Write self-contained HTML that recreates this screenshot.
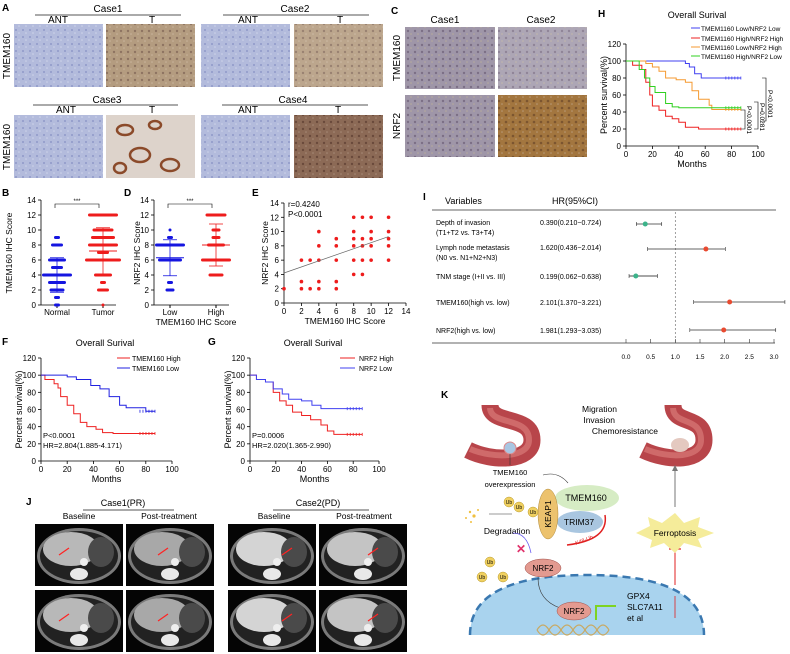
<!DOCTYPE html>
<html><head><meta charset="utf-8"><style>
body{margin:0;background:#fff}
svg{display:block;font-family:"Liberation Sans",Arial,sans-serif}
</style></head><body>
<svg id="fig" width="790" height="654" viewBox="0 0 790 654" xmlns="http://www.w3.org/2000/svg">
<defs>
<pattern id="pANT" width="7" height="7" patternUnits="userSpaceOnUse"><rect width="7" height="7" fill="#b3bbdc"/><circle cx="2" cy="2" r="1" fill="#8f99c8"/><circle cx="5" cy="5" r="0.8" fill="#cfd4ea"/></pattern>
<pattern id="pT" width="7" height="7" patternUnits="userSpaceOnUse"><rect width="7" height="7" fill="#b49c80"/><circle cx="2" cy="3" r="1.2" fill="#8e7462"/><circle cx="5" cy="6" r="0.8" fill="#c9b59c"/></pattern>
<pattern id="pT4" width="7" height="7" patternUnits="userSpaceOnUse"><rect width="7" height="7" fill="#8c6a56"/><circle cx="2" cy="3" r="1.2" fill="#6a4a3c"/><circle cx="5" cy="6" r="0.8" fill="#a78a78"/></pattern>
<pattern id="pC" width="7" height="7" patternUnits="userSpaceOnUse"><rect width="7" height="7" fill="#9f96a8"/><circle cx="2" cy="3" r="1.2" fill="#7c6f86"/><circle cx="5" cy="6" r="0.8" fill="#b7ab9c"/></pattern>
<pattern id="pN" width="7" height="7" patternUnits="userSpaceOnUse"><rect width="7" height="7" fill="#a3763f"/><circle cx="2" cy="3" r="1.3" fill="#7c5530"/><circle cx="5" cy="6" r="0.8" fill="#b99a78"/></pattern>
</defs>
<g id="static" font-size="10" fill="#000">
<text x="2" y="11" font-weight="bold" font-size="10">A</text>
<text x="108" y="12" text-anchor="middle">Case1</text>
<line x1="35" y1="15" x2="181" y2="15" stroke="#555"/>
<text x="58" y="23" text-anchor="middle">ANT</text><text x="152" y="23" text-anchor="middle">T</text>
<text x="295" y="12" text-anchor="middle">Case2</text>
<line x1="223" y1="15" x2="369" y2="15" stroke="#555"/>
<text x="248" y="23" text-anchor="middle">ANT</text><text x="340" y="23" text-anchor="middle">T</text>
<rect x="14" y="24" width="89" height="63" fill="url(#pANT)"/>
<rect x="106" y="24" width="89" height="63" fill="url(#pT)"/>
<rect x="201" y="24" width="89" height="63" fill="url(#pANT)"/>
<rect x="294" y="24" width="89" height="63" fill="url(#pT)" opacity="0.9"/>
<text x="10" y="56" transform="rotate(-90 10 56)" text-anchor="middle">TMEM160</text>
<text x="107" y="103" text-anchor="middle">Case3</text>
<line x1="33" y1="105" x2="178" y2="105" stroke="#555"/>
<text x="66" y="113" text-anchor="middle">ANT</text><text x="152" y="113" text-anchor="middle">T</text>
<text x="293" y="103" text-anchor="middle">Case4</text>
<line x1="222" y1="105" x2="368" y2="105" stroke="#555"/>
<text x="248" y="113" text-anchor="middle">ANT</text><text x="338" y="113" text-anchor="middle">T</text>
<rect x="14" y="115" width="89" height="63" fill="url(#pANT)"/>
<rect x="106" y="115" width="89" height="63" fill="#ddd3cb"/>
<g fill="none" stroke="#8b4a2a" stroke-width="2.5"><ellipse cx="140" cy="155" rx="10" ry="7"/><ellipse cx="125" cy="130" rx="8" ry="5"/><ellipse cx="170" cy="165" rx="9" ry="6"/><ellipse cx="155" cy="125" rx="6" ry="4"/><ellipse cx="120" cy="168" rx="6" ry="5"/></g>
<rect x="201" y="115" width="89" height="63" fill="url(#pANT)"/>
<rect x="294" y="115" width="89" height="63" fill="url(#pT4)"/>
<text x="10" y="147" transform="rotate(-90 10 147)" text-anchor="middle">TMEM160</text>
<text x="391" y="14" font-weight="bold">C</text>
<text x="445" y="23" text-anchor="middle">Case1</text><text x="541" y="23" text-anchor="middle">Case2</text>
<rect x="405" y="27" width="90" height="62" fill="url(#pC)"/>
<rect x="498" y="27" width="89" height="62" fill="url(#pC)" opacity="0.85"/>
<rect x="405" y="95" width="90" height="62" fill="url(#pC)"/>
<rect x="498" y="95" width="89" height="62" fill="url(#pN)"/>
<text x="400" y="58" transform="rotate(-90 400 58)" text-anchor="middle">TMEM160</text>
<text x="400" y="126" transform="rotate(-90 400 126)" text-anchor="middle">NRF2</text>
<text x="2" y="196" font-weight="bold">B</text>
<text x="124" y="196" font-weight="bold">D</text>
<text x="252" y="196" font-weight="bold">E</text>
<text x="2" y="345" font-weight="bold">F</text>
<text x="208" y="345" font-weight="bold">G</text>
<text x="598" y="17" font-weight="bold">H</text>
<text x="423" y="200" font-weight="bold">I</text>
<text x="26" y="505" font-weight="bold">J</text>
<text x="441" y="398" font-weight="bold">K</text>
<text x="123" y="506" text-anchor="middle" font-size="9">Case1(PR)</text>
<line x1="83" y1="510" x2="174" y2="510" stroke="#555"/>
<text x="79" y="519" text-anchor="middle" font-size="8.5">Baseline</text>
<text x="169" y="519" text-anchor="middle" font-size="8.5">Post-treatment</text>
<text x="318" y="506" text-anchor="middle" font-size="9">Case2(PD)</text>
<line x1="273" y1="510" x2="369" y2="510" stroke="#555"/>
<text x="274" y="519" text-anchor="middle" font-size="8.5">Baseline</text>
<text x="364" y="519" text-anchor="middle" font-size="8.5">Post-treatment</text>
</g>
<g id="ct"></g>
<g id="charts"></g>
<g id="k" font-size="7.5">
<path d="M490 405 C490 426 532 414 532 440 C532 462 492 462 468 450" fill="none" stroke="#b8454a" stroke-width="17"/>
<path d="M490 408 C491 426 529 416 529 440 C529 458 494 459 470 449" fill="none" stroke="#cf6a6a" stroke-width="6"/>
<circle cx="510" cy="448" r="6" fill="#a9c6e2" stroke="#dd8a8a"/>
<line x1="510" y1="454" x2="510" y2="465" stroke="#333" stroke-width="0.6"/>
<path d="M673 405 C673 426 704 414 704 440 C704 462 668 462 643 450" fill="none" stroke="#b8454a" stroke-width="17"/>
<path d="M673 408 C674 426 701 416 701 440 C701 458 670 459 645 449" fill="none" stroke="#cf6a6a" stroke-width="6"/>
<ellipse cx="680" cy="445" rx="9" ry="7" fill="#e4c9c0"/>
<text x="617" y="412" text-anchor="end" font-size="8.5">Migration</text>
<text x="615" y="423" text-anchor="end" font-size="8.5">Invasion</text>
<text x="658" y="434" text-anchor="end" font-size="8.5">Chemoresistance</text>
<text x="510" y="475" text-anchor="middle">TMEM160</text>
<text x="510" y="487" text-anchor="middle">overexpression</text>
<path d="M543 475 q15 -4 25 8" fill="none" stroke="#333" stroke-width="0.6"/>
<ellipse cx="587" cy="498" rx="32" ry="13" fill="#d6ecc4"/>
<ellipse cx="580" cy="522" rx="23" ry="11" fill="#a9c6e0"/>
<text x="586" y="501" text-anchor="middle" font-size="9">TMEM160</text>
<text x="579" y="525" text-anchor="middle" font-size="8.5">TRIM37</text>
<ellipse cx="548" cy="514" rx="10" ry="25" fill="#ecc26e" stroke="#b08a3a" stroke-width="0.5"/>
<text x="551" y="514" transform="rotate(-90 551 514)" text-anchor="middle" font-size="8.5">KEAP1</text>
<g fill="#f0d060" stroke="#b89a30" stroke-width="0.5"><circle cx="509" cy="502" r="5"/><circle cx="519" cy="507" r="5"/><circle cx="533" cy="512" r="5"/><circle cx="490" cy="562" r="5"/><circle cx="482" cy="577" r="5"/><circle cx="503" cy="577" r="5"/></g>
<g font-size="5" text-anchor="middle"><text x="509" y="504">Ub</text><text x="519" y="509">Ub</text><text x="533" y="514">Ub</text><text x="490" y="564">Ub</text><text x="482" y="579">Ub</text><text x="503" y="579">Ub</text></g>
<g fill="#f0c040"><circle cx="470" cy="512" r="1.2"/><circle cx="474" cy="516" r="1.6"/><circle cx="466" cy="518" r="1"/><circle cx="478" cy="510" r="1"/><circle cx="471" cy="522" r="1"/></g>
<line x1="512" y1="514" x2="489" y2="514" stroke="#333" stroke-width="0.6"/>
<text x="507" y="534" text-anchor="middle" font-size="8.5">Degradation</text>
<path d="M513 533 q14 0 18 20" fill="none" stroke="#6a5cf0" stroke-width="0.8"/>
<text x="516" y="553" fill="#e0306a" font-size="12" font-weight="bold">✕</text>
<path d="M605 515 q4 25 -38 30" fill="none" stroke="#e02020" stroke-width="1.5"/>
<text x="576" y="545" fill="#e02020" font-size="5.5" transform="rotate(-20 576 545)">K48-Ub</text>
<path d="M470 635 q0 -60 117 -60 q117 0 117 60 z" fill="#a9d3ee"/>
<path d="M470 635 q0 -60 117 -60 q117 0 117 60" fill="none" stroke="#3a78b0" stroke-width="2.5" stroke-dasharray="8 5"/>
<ellipse cx="543" cy="568" rx="18" ry="9" fill="#e39a90" stroke="#a0504a" stroke-width="0.5"/>
<text x="543" y="571" text-anchor="middle" font-size="8">NRF2</text>
<path d="M538 578 q0 22 22 30" fill="none" stroke="#333" stroke-width="0.6"/>
<ellipse cx="574" cy="611" rx="17" ry="9" fill="#e39a90" stroke="#a0504a" stroke-width="0.5"/>
<text x="574" y="614" text-anchor="middle" font-size="8">NRF2</text>
<path d="M537 630 q6 -10 12 0 q6 10 12 0 q6 -10 12 0 q6 10 12 0 q6 -10 12 0 q6 10 12 0" fill="none" stroke="#c9a860" stroke-width="1.2"/>
<path d="M537 630 q6 10 12 0 q6 -10 12 0 q6 10 12 0 q6 -10 12 0 q6 10 12 0 q6 -10 12 0" fill="none" stroke="#c9a860" stroke-width="1.2"/>
<path d="M596 620 v-14 h20" fill="none" stroke="#7ed321" stroke-width="2"/>
<text x="627" y="599" font-size="8.5">GPX4</text><text x="627" y="610" font-size="8.5">SLC7A11</text><text x="627" y="621" font-size="8.5">et al</text>
<line x1="675" y1="618" x2="675" y2="596" stroke="#e02020" stroke-width="0.8"/>
<line x1="675" y1="585" x2="675" y2="549" stroke="#e02020" stroke-width="1"/>
<line x1="669" y1="549" x2="681" y2="549" stroke="#e02020" stroke-width="1.2"/>
<polygon points="636,533 650,526 648,517 662,523 675,513 684,523 700,517 698,527 714,533 698,539 702,548 684,543 675,553 664,543 650,548 652,540" fill="#f5ec9a"/>
<text x="675" y="536" text-anchor="middle" font-size="8.5">Ferroptosis</text>
<line x1="675" y1="507" x2="675" y2="470" stroke="#777" stroke-width="1"/>
<polygon points="672,471 675,465 678,471" fill="#777"/>
</g>
</svg>
<script>
const NS='http://www.w3.org/2000/svg';
const root=document.getElementById('charts');
function mk(tag,attrs,parent,txt){const e=document.createElementNS(NS,tag);for(const k in attrs)e.setAttribute(k,attrs[k]);if(txt!==undefined)e.textContent=txt;(parent||root).appendChild(e);return e;}

const bCategories=['Normal','Tumor'];
const bNormalScores=[0,1,2,3,4,5,6,8,9];
const bNormalCounts=[2,2,5,6,10,4,6,4,2];
const bTumorScores=[0,2,3,4,6,7,8,9,10,12];
const bTumorCounts=[1,4,2,6,12,4,10,8,7,10];
const bMeans=[4.0,7.2];
const bSD=[2.3,3.1];
const bYTicks=[0,2,4,6,8,10,12,14];
const dCategories=['Low','High'];
const dLowScores=[2,3,6,8,9,10];
const dLowCounts=[3,2,8,10,2,1];
const dHighScores=[4,6,8,9,10,12];
const dHighCounts=[5,10,6,3,3,7];
const dMeans=[6.3,8.0];
const dSD=[2.4,2.8];
const eX=[0,2,2,2,3,3,4,4,4,4,4,6,6,6,6,6,8,8,8,8,8,8,9,9,9,9,9,10,10,10,10,10,12,12,12,12,12];
const eY=[2,2,3,6,2,6,2,3,6,8,10,2,3,6,8,9,4,6,8,9,10,12,4,6,8,9,12,6,8,9,10,12,6,8,9,10,12];
const eFit=[4.2,9.3];
const eTicks=[0,2,4,6,8,10,12,14];
const fHighT=[0,3,10,13,15,20,25,30,35,42,47,55,87];
const fHighS=[100,95,90,85,75,65,55,45,40,37,33,32,32];
const fLowT=[0,12,20,27,38,45,52,60,65,78,80,87];
const fLowS=[100,100,98,95,88,84,75,65,62,62,58,58];
const gHighT=[0,5,12,18,23,28,33,40,47,55,60,65,87];
const gHighS=[100,95,92,80,70,65,57,53,48,42,35,31,31];
const gLowT=[0,5,12,18,25,30,40,48,55,87];
const gLowS=[100,95,92,84,78,72,70,65,61,61];
const hLLt=[0,20,45,48,52,57,87];
const hLLs=[100,100,97,93,85,80,80];
const hHHt=[0,5,12,15,18,20,25,30,35,40,45,55,87];
const hHHs=[100,95,90,75,60,47,42,35,32,28,22,20,20];
const hLHt=[0,15,20,25,30,38,45,50,55,63,65,87];
const hLHs=[100,97,93,88,80,78,75,65,55,48,43,43];
const hHLt=[0,10,14,18,22,30,35,40,87];
const hHLs=[100,90,80,70,63,50,46,45,45];
const survXTicks=[0,20,40,60,80,100];
const survYTicks=[0,20,40,60,80,100,120];
const iVars=[['Depth of invasion','(T1+T2 vs. T3+T4)'],['Lymph node metastasis','(N0 vs. N1+N2+N3)'],['TNM stage (I+II vs. III)'],['TMEM160(high vs. low)'],['NRF2(high vs. low)']];
const iHR=[0.390,1.620,0.199,2.101,1.981];
const iLo=[0.210,0.436,0.062,1.370,1.293];
const iHi=[0.724,2.014,0.638,3.221,3.035];
const iLabels=['0.390(0.210−0.724)','1.620(0.436−2.014)','0.199(0.062−0.638)','2.101(1.370−3.221)','1.981(1.293−3.035)'];
const iTicks=[0,0.5,1,1.5,2,2.5,3];

function lin(d0,d1,r0,r1){return v=>r0+(v-d0)*(r1-r0)/(d1-d0);}
function yAxis(g,x,y,ticks){for(const t of ticks){const yy=y(t);mk('line',{x1:x-3,y1:yy,x2:x,y2:yy,stroke:'#000','stroke-width':0.8},g);mk('text',{x:x-5,y:yy+3,'text-anchor':'end','font-size':8},g,String(t));}
 mk('line',{x1:x,y1:y(ticks[0]),x2:x,y2:y(ticks[ticks.length-1]),stroke:'#000','stroke-width':0.8},g);}

function dotPlot(name,x0,cats,sets,means,sds,colors,xlab){
 const g=mk('g',{});
 
 
 const y=lin(0,14,305,200);
 yAxis(g,x0,y,bYTicks);
 mk('line',{x1:x0,y1:305,x2:x0+75,y2:305,stroke:'#000','stroke-width':0.8},g);
 const cx=[x0+16,x0+62];
 cats.forEach((c,i)=>{mk('line',{x1:cx[i],y1:305,x2:cx[i],y2:308,stroke:'#000'},g);mk('text',{x:cx[i],y:315,'text-anchor':'middle','font-size':8},g,c);});
 sets.forEach((s,i)=>{const [sc,cn]=s;sc.forEach((v,j)=>{const w=cn[j]*1.5;
   const r=mk('rect',{x:cx[i]-w,y:y(v)-1.5,width:2*w,height:3,fill:colors[i],rx:1.5},g);
   
   });
   const m=means[i],sd=sds[i];
   mk('line',{x1:cx[i]-14,x2:cx[i]+14,y1:y(m),y2:y(m),stroke:colors[i],'stroke-width':1},g);
   mk('line',{x1:cx[i],x2:cx[i],y1:y(m-sd),y2:y(m+sd),stroke:colors[i],'stroke-width':0.8},g);
   for(const e of [m-sd,m+sd])mk('line',{x1:cx[i]-7,x2:cx[i]+7,y1:y(e),y2:y(e),stroke:colors[i],'stroke-width':0.8},g);});
 mk('path',{d:`M${cx[0]-2} 208 V204 H${cx[1]-4} V208`,fill:'none',stroke:'#000','stroke-width':0.6},g);
 mk('text',{x:(cx[0]+cx[1])/2-3,y:203,'text-anchor':'middle','font-size':6},g,'***');
 if(xlab)mk('text',{x:x0+42,y:325,'text-anchor':'middle','font-size':8.5},g,xlab);
 return g;}
const gb=dotPlot('panel-b-dotplot',41,bCategories,[[bNormalScores,bNormalCounts],[bTumorScores,bTumorCounts]],bMeans,bSD,['#1515e0','#ee1c1c']);
mk('text',{x:12,y:253,transform:'rotate(-90 12 253)','text-anchor':'middle','font-size':8.5},gb,'TMEM160 IHC Score');
const gd=dotPlot('panel-d-dotplot',154,dCategories,[[dLowScores,dLowCounts],[dHighScores,dHighCounts]],dMeans,dSD,['#1515e0','#ee1c1c'],'TMEM160 IHC Score');
mk('text',{x:140,y:253,transform:'rotate(-90 140 253)','text-anchor':'middle','font-size':8.5},gd,'NRF2 IHC Score');

(function(){const g=mk('g',{});
 
 
 const x=lin(0,14,284,406),y=lin(0,14,303,203);
 yAxis(g,284,y,eTicks);
 mk('line',{x1:284,y1:303,x2:406,y2:303,stroke:'#000','stroke-width':0.8},g);
 for(const t of eTicks){mk('line',{x1:x(t),y1:303,x2:x(t),y2:306,stroke:'#000','stroke-width':0.8},g);mk('text',{x:x(t),y:314,'text-anchor':'middle','font-size':8},g,String(t));}
 eX.forEach((v,i)=>{const c=mk('circle',{cx:x(v),cy:y(eY[i]),r:1.8,fill:'#ee1c1c'},g);
  
  });
 mk('line',{x1:x(0),y1:y(eFit[0]),x2:x(12),y2:y(eFit[1]),stroke:'#666','stroke-width':0.7},g);
 mk('text',{x:288,y:207,'font-size':8},g,'r=0.4240');
 mk('text',{x:288,y:217,'font-size':8},g,'P<0.0001');
 mk('text',{x:345,y:324,'text-anchor':'middle','font-size':8.5},g,'TMEM160 IHC Score');
 mk('text',{x:268,y:253,transform:'rotate(-90 268 253)','text-anchor':'middle','font-size':8.5},g,'NRF2 IHC Score');})();

function survival(name,x0,x1,y0,y1,series,title,titleX,titleY){
 const g=mk('g',{});
 
 
 const x=lin(0,100,x0,x1),y=lin(0,120,y0,y1);
 yAxis(g,x0,y,survYTicks);
 mk('line',{x1:x0,y1:y0,x2:x1,y2:y0,stroke:'#000','stroke-width':0.8},g);
 for(const t of survXTicks){mk('line',{x1:x(t),y1:y0,x2:x(t),y2:y0+3,stroke:'#000','stroke-width':0.8},g);mk('text',{x:x(t),y:y0+11,'text-anchor':'middle','font-size':8},g,String(t));}
 for(const s of series){let d=`M${x(s.t[0])} ${y(s.s[0])}`;for(let i=1;i<s.t.length;i++)d+=` H${x(s.t[i])} V${y(s.s[i])}`;
  const p=mk('path',{d,fill:'none',stroke:s.c,'stroke-width':1},g);
  
  
  const last=s.t.length-1;for(let k=0;k<6;k++)mk('line',{x1:x(s.t[last])-k*3,x2:x(s.t[last])-k*3,y1:y(s.s[last])-1.5,y2:y(s.s[last])+1.5,stroke:s.c,'stroke-width':0.8},g);}
 mk('text',{x:titleX,y:titleY,'text-anchor':'middle','font-size':9},g,title);
 mk('text',{x:(x0+x1)/2,y:y0+21,'text-anchor':'middle','font-size':9},g,'Months');
 mk('text',{x:x0-19,y:(y0+y1)/2,transform:`rotate(-90 ${x0-19} ${(y0+y1)/2})`,'text-anchor':'middle','font-size':9},g,'Percent survival(%)');
 return g;}
const gf=survival('panel-f-survival',41,172,461,358,[{t:fHighT,s:fHighS,c:'#ee2020'},{t:fLowT,s:fLowS,c:'#2020e0'}],'Overall Surival',105,346);
mk('text',{x:43,y:438,'font-size':7.5},gf,'P<0.0001');
mk('text',{x:43,y:448,'font-size':7.5},gf,'HR=2.804(1.885-4.171)');
[['TMEM160 High','#ee2020',361],['TMEM160 Low','#2020e0',371]].forEach(l=>{mk('line',{x1:117,x2:130,y1:l[2]-3,y2:l[2]-3,stroke:l[1]},gf);mk('text',{x:132,y:l[2],'font-size':7},gf,l[0]);});
const gg=survival('panel-g-survival',250,379,461,358,[{t:gHighT,s:gHighS,c:'#ee2020'},{t:gLowT,s:gLowS,c:'#4040f0'}],'Overall Surival',313,346);
mk('text',{x:252,y:438,'font-size':7.5},gg,'P=0.0006');
mk('text',{x:252,y:448,'font-size':7.5},gg,'HR=2.020(1.365-2.990)');
[['NRF2 High','#ee2020',361],['NRF2 Low','#4040f0',371]].forEach(l=>{mk('line',{x1:340,x2:355,y1:l[2]-3,y2:l[2]-3,stroke:l[1]},gg);mk('text',{x:359,y:l[2],'font-size':7},gg,l[0]);});
const gh=survival('panel-h-survival',626,758,146,44,[{t:hLLt,s:hLLs,c:'#4040f0'},{t:hHHt,s:hHHs,c:'#ee2020'},{t:hLHt,s:hLHs,c:'#f59a30'},{t:hHLt,s:hHLs,c:'#30d020'}],'Overall Surival',697,18);
[['TMEM1160 Low/NRF2 Low','#4040f0',31],['TMEM1160 High/NRF2 High','#ee2020',41],['TMEM1160 Low/NRF2 High','#f59a30',50],['TMEM1160 High/NRF2 Low','#30d020',59]].forEach(l=>{mk('line',{x1:691,x2:700,y1:l[2]-3,y2:l[2]-3,stroke:l[1]},gh);mk('text',{x:701,y:l[2],'font-size':6.5},gh,l[0]);});
mk('path',{d:'M762 78 H766 V121 H762',fill:'none',stroke:'#000','stroke-width':0.6},gh);
mk('path',{d:'M754 102 H758 V129 H754',fill:'none',stroke:'#000','stroke-width':0.6},gh);
mk('path',{d:'M741 110 H745 V129 H741',fill:'none',stroke:'#000','stroke-width':0.6},gh);
mk('text',{x:768,y:90,transform:'rotate(90 768 90)','font-size':6.5},gh,'P<0.0001');
mk('text',{x:760,y:103,transform:'rotate(90 760 103)','font-size':6.5},gh,'P=0.0281');
mk('text',{x:747,y:106,transform:'rotate(90 747 106)','font-size':6.5},gh,'P<0.0001');

(function(){const g=mk('g',{});
 
 
 const x=lin(0,3,626,774);const rowY=[224,249,276,302,330];
 mk('text',{x:445,y:204,'font-size':9},g,'Variables');
 mk('text',{x:552,y:204,'font-size':9},g,'HR(95%CI)');
 mk('line',{x1:432,x2:776,y1:210,y2:210,stroke:'#333','stroke-width':0.8},g);
 mk('line',{x1:432,x2:775,y1:343,y2:343,stroke:'#333','stroke-width':0.8},g);
 mk('line',{x1:x(1),x2:x(1),y1:212,y2:343,stroke:'#777','stroke-width':0.7,'stroke-dasharray':'2 2'},g);
 for(const t of iTicks){mk('line',{x1:x(t),x2:x(t),y1:343,y2:339,stroke:'#333','stroke-width':0.6},g);mk('text',{x:x(t),y:359,'text-anchor':'middle','font-size':6.5},g,t.toFixed(1));}
 iVars.forEach((v,i)=>{const yy=rowY[i];
  v.forEach((s,k)=>mk('text',{x:436,y:yy+3+(k*10)-(v.length>1?2:0),'font-size':7},g,s));
  mk('text',{x:540,y:yy+3-(v.length>1?2:0),'font-size':7},g,iLabels[i]);
  const col=iHR[i]<1?'#3cb38a':'#e84a30';
  mk('line',{x1:x(iLo[i]),x2:x(iHi[i]),y1:yy,y2:yy,stroke:i==2?'#888':'#333','stroke-width':i==2?1.5:0.7},g);
  for(const e of [iLo[i],iHi[i]])mk('line',{x1:x(e),x2:x(e),y1:yy-2,y2:yy+2,stroke:'#333','stroke-width':0.6},g);
  const c=mk('circle',{cx:x(iHR[i]),cy:yy,r:2.5,fill:col},g);
  
  });})();

(function(){const g=document.getElementById('ct');
 const xs=[35,126,228,319],ys=[524,590];
 const lv=['#b8b8b8','#a8a8a8','#d4d4d4','#c4c4c4'];
 ys.forEach((yy,r)=>xs.forEach((xx,c)=>{
  const cell=mk('g',{},g);
  
  
  mk('rect',{x:xx,y:yy,width:88,height:62,fill:'#050505'},cell);
  mk('ellipse',{cx:xx+44,cy:yy+32,rx:42,ry:28,fill:'#7a7a7a'},cell);
  mk('ellipse',{cx:xx+44,cy:yy+32,rx:39,ry:25,fill:'#222'},cell);
  mk('ellipse',{cx:xx+36,cy:yy+25,rx:28,ry:17,fill:lv[c]},cell);
  mk('ellipse',{cx:xx+66,cy:yy+28,rx:13,ry:15,fill:'#4a4a4a'},cell);
  mk('ellipse',{cx:xx+44,cy:yy+50,rx:9,ry:6,fill:'#e8e8e8'},cell);
  mk('circle',{cx:xx+49,cy:yy+38,r:4,fill:'#eee'},cell);
  const ax=[xx+30,xx+38,xx+60,xx+55][c],ay=yy+26;
  mk('line',{x1:ax-6,y1:ay+5,x2:ax+4,y2:ay-2,stroke:'#f22','stroke-width':1.2},cell);
 }));})();
</script>
</body></html>
